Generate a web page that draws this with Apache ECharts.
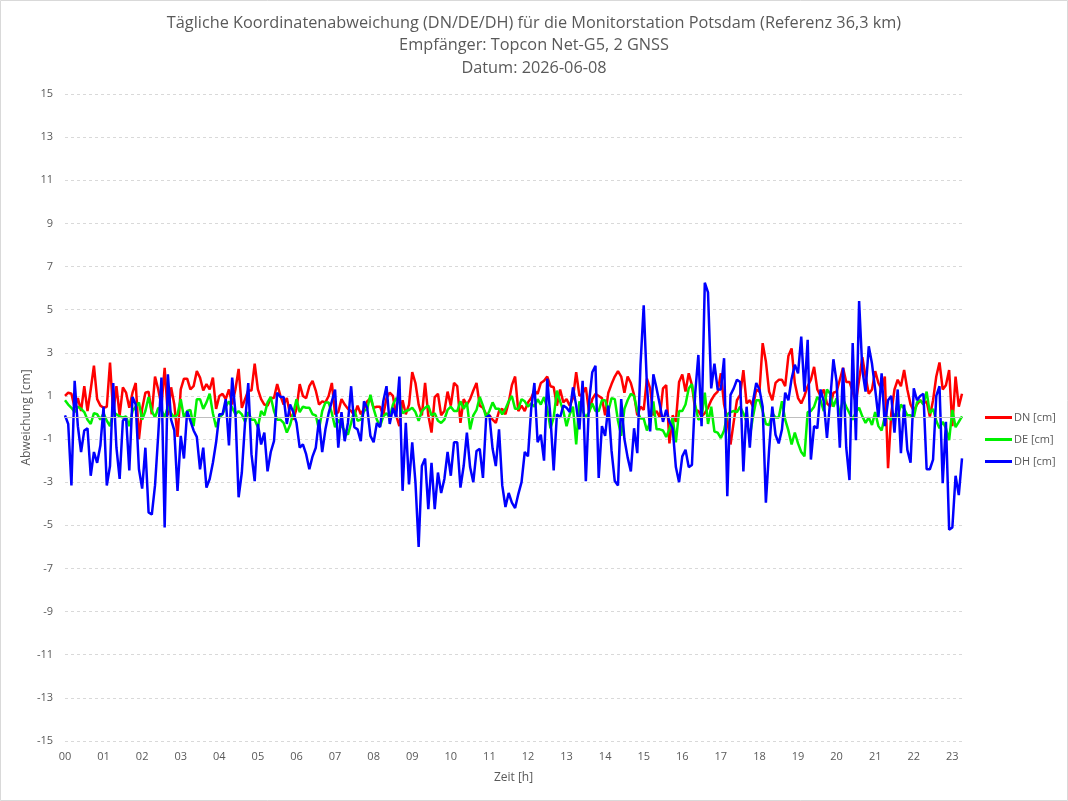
<!DOCTYPE html>
<html>
<head>
<meta charset="utf-8">
<title>Koordinatenabweichung Potsdam</title>
<script src="https://cdn.jsdelivr.net/npm/echarts@6/dist/echarts.min.js"></script>
<style>
  html, body { margin: 0; padding: 0; background: #fff; }
  #chart { width: 1068px; height: 801px; }
</style>
</head>
<body>
<div id="chart"></div>
<script>
'use strict';

// 5-minute epochs
var dn = [
    1.0, 1.15, 1.1, 0.45, 0.9, 0.3, 1.45, 0.3, 1.3, 2.4, 0.85, 0.55,
    0.45, 0.5, 2.55, 0.2, 1.45, 0.1, 1.4, 1.15, 0.45, 1.15, 1.6, -1.0,
    0.4, 1.15, 1.2, 0.15, 1.9, 1.3, 0.55, 2.3, 0.1, 1.4, 0.6, -0.9,
    1.3, 1.8, 1.8, 1.3, 1.45, 2.15, 1.85, 1.25, 1.55, 1.3, 1.85, 0.4,
    1.0, 1.1, 0.85, 1.3, 0.6, 1.3, 2.25, 0.45, 0.85, 1.25, 1.25, 2.5,
    1.3, 0.85, 0.6, 0.55, 0.9, 0.9, 1.55, 1.0, 0.6, 0.9, 0.15, -0.1,
    0.4, 1.55, 1.0, 0.9, 1.45, 1.7, 1.25, 0.6, 0.75, 0.7, 1.0, 1.6,
    0.15, 0.25, 0.85, 0.6, 0.4, 0.3, 0.1, 0.55, 0.15, 0.4, 0.75, 0.9,
    0.45, 0.5, 0.5, 0.1, 0.9, 1.15, 1.0, 0.1, -0.4, 0.8, 0.15, 0.6,
    2.1, 1.6, 0.6, 0.1, 1.6, 0.1, -0.7, 0.95, 1.1, 0.1, 0.3, 1.2,
    0.55, 1.6, 1.45, -0.25, 0.85, 0.6, 0.85, 1.25, 1.6, 0.55, 0.45, 0.15,
    0.1, -0.1, -0.25, 0.3, 0.4, 0.15, 0.7, 1.5, 1.9, 0.3, 0.55, 0.3,
    0.7, 0.9, 1.25, 1.1, 1.6, 1.7, 1.9, 1.45, 1.4, 0.55, 1.3, 0.7,
    0.85, 0.55, 0.9, 2.1, 1.0, 1.1, 1.4, 0.25, 0.85, 1.1, 1.0, 0.9,
    0.1, 1.15, 1.55, 1.9, 2.15, 1.9, 1.15, 1.9, 1.6, 1.05, 0.1, 0.5,
    0.35, 1.8, 1.35, 0.1, 0.3, 0.0, 1.35, 1.5, -1.2, 0.1, -0.2, 1.65,
    2.0, 1.2, 2.05, 1.5, 0.35, 0.3, 0.05, 0.2, 0.45, 0.8, 1.05, 1.2,
    2.05, 0.6, -0.1, -1.25, -0.2, 0.8, 1.05, 2.2, 0.65, 0.8, 0.5, 1.3,
    1.2, 3.45, 2.6, 1.2, 0.8, 1.6, 1.75, 1.75, 1.45, 2.85, 3.2, 1.6,
    0.9, 0.65, 1.0, 1.45, 1.75, 2.35, 1.3, 1.0, 1.3, 0.65, 0.5, 1.15,
    1.2, 1.75, 2.3, 1.65, 1.65, 1.2, 0.7, 1.75, 2.8, 1.9, 1.1, 1.3,
    2.15, 1.6, 1.3, 1.9, -2.35, 0.2, 1.3, 1.75, 1.45, 2.2, 1.3, 0.6,
    0.3, 0.6, 0.8, 0.65, 0.75, 0.05, 0.8, 1.9, 2.55, 1.3, 1.5, 2.2,
    -0.4, 1.9, 0.5, 1.1
];

var de = [
    0.8, 0.6, 0.45, 0.25, 0.5, 0.4, 0.25, -0.1, -0.3, 0.2, 0.15, -0.1,
    0.2, -0.15, -0.4, 0.25, 0.15, 0.05, 0.0, 0.05, -0.4, 0.3, 0.5, 0.7,
    -0.1, 0.3, 0.95, 0.3, 0.0, 0.45, 0.35, 0.0, 0.5, 0.2, 0.0, 0.15,
    0.85, 0.0, 0.3, 0.35, -0.4, 0.85, 0.85, 0.4, 0.7, 1.1, 0.2, -0.45,
    0.0, 0.15, 0.5, 0.75, 0.45, 0.15, 0.3, 0.15, -0.2, 0.25, -0.1, -0.1,
    -0.45, 0.3, 0.1, 0.7, 0.95, 0.3, -0.1, -0.1, -0.25, -0.7, -0.35, 0.2,
    0.85, 0.25, 0.5, 0.45, 0.45, 0.15, 0.1, -0.55, 0.3, 0.7, 0.7, 0.2,
    -0.45, -0.1, -0.4, -0.6, -0.8, -0.25, 0.35, -0.15, -0.1, 0.3, 0.4, 1.05,
    0.4, -0.1, -0.4, 0.05, 0.2, 0.0, 0.6, 0.9, 0.7, 0.2, 0.3, 0.35,
    0.45, 0.25, -0.15, 0.3, 0.45, 0.55, 0.1, 0.2, -0.15, -0.25, -0.1, 0.35,
    0.5, 0.3, 0.3, 0.75, 0.4, 0.7, -0.55, 0.1, 0.35, 0.95, 0.55, 0.0,
    0.3, 0.7, 0.4, 0.4, 0.15, 0.4, 0.75, 1.0, 0.4, 0.4, 0.85, 0.75,
    0.5, 0.65, 0.5, 0.85, 0.6, 0.95, 0.4, -0.5, 0.0, 1.25, 0.75, 0.3,
    -0.4, 0.15, 0.5, -1.25, 0.75, 0.3, 0.0, 0.25, 0.65, 0.3, 0.3, 0.8,
    0.8, 0.3, 0.9, 0.85, -0.15, -0.85, 0.4, 0.8, 1.1, 1.0, 0.3, -0.05,
    -0.05, -0.6, -0.2, 0.75, -0.55, -0.55, -0.6, -0.9, -0.55, 0.0, -1.15, 0.3,
    0.3, 0.6, 1.35, 1.55, 0.6, -0.1, 0.0, 1.15, -0.3, 0.5, -0.65, -0.7,
    -0.95, -0.6, 0.15, 0.25, 0.3, 0.25, 0.5, 0.2, -0.2, -0.9, 0.05, 0.8,
    0.8, 0.3, -0.3, -0.35, 0.2, 0.0, 0.0, 0.75, -0.1, -0.6, -1.25, -0.7,
    -1.2, -1.6, -1.8, 0.25, 0.3, 0.5, 0.95, 0.8, 0.3, 1.3, 1.1, 0.5,
    0.9, 0.1, 0.85, 0.5, 0.2, -0.1, 0.25, 0.45, 0.05, -0.25, 0.0, -0.35,
    0.25, -0.4, -0.6, 0.05, 0.0, -0.1, 0.15, 0.05, 0.6, 0.4, 0.1, 0.1,
    0.0, 0.7, 0.8, 0.6, 1.2, 0.2, 0.4, -0.15, -0.5, -0.2, -0.5, -1.05,
    0.35, -0.45, -0.2, 0.05
];

var dh = [
    0.1, -0.3, -3.15, 1.7, -0.4, -1.6, -0.6, -0.5, -2.7, -1.6, -2.1, -1.3,
    0.5, -3.15, -2.25, 1.6, -1.4, -2.85, -0.15, 0.0, -2.45, 0.95, 0.6, -2.4,
    -3.3, -1.4, -4.4, -4.5, -3.15, -0.8, 1.85, -5.1, 2.0, -0.1, -0.6, -3.4,
    -0.85, -1.9, 0.3, -0.15, -0.6, -0.9, -2.4, -1.4, -3.25, -2.85, -2.1, -1.15,
    0.15, 0.15, 0.85, -1.3, 1.85, 0.25, -3.7, -2.55, -0.25, 1.6, -1.7, -2.95,
    -0.3, -1.25, -0.7, -2.5, -1.6, -1.1, 1.15, 0.95, 0.95, -0.3, 0.6, 0.25,
    -0.25, -1.4, -1.25, -1.7, -2.4, -1.8, -1.4, -0.1, -1.6, -0.55, 0.2, 0.75,
    1.3, -1.4, 0.25, -1.1, -0.25, 1.45, -0.45, -0.55, -1.1, 0.75, 0.45, -0.85,
    -1.15, -0.25, -0.45, 0.75, 1.45, -0.3, 0.45, 0.0, 1.9, -3.4, -0.25, -3.1,
    -1.15, -3.0, -6.0, -2.25, -1.9, -4.25, -2.1, -4.25, -2.55, -3.5, -2.85, -1.6,
    -2.7, -1.15, -1.15, -3.25, -2.25, -0.7, -2.3, -3.0, -1.55, -1.45, -2.8, 0.0,
    0.1, -1.45, -2.25, -0.55, -3.15, -4.15, -3.5, -3.95, -4.2, -3.55, -3.0, -1.6,
    -1.8, 0.4, 1.6, -1.15, -0.8, -2.0, 1.8, 0.0, -2.45, 0.15, 0.0, 0.55,
    0.45, 0.25, 1.4, 0.55, -0.55, 1.7, -2.95, 0.7, 2.1, 2.4, -2.8, -0.4,
    -0.85, 0.55, -1.55, -2.95, -3.15, 0.85, -1.0, -1.85, -2.5, -0.5, -1.65, 2.45,
    5.2, 1.5, -0.65, 2.0, 1.35, 0.6, -0.2, 0.35, -0.2, -0.5, -2.3, -3.0,
    -1.8, -1.5, -2.3, -2.2, 1.1, 2.9, -0.4, 6.25, 5.8, 1.35, 2.5, 1.3,
    1.3, 2.75, -3.65, 1.05, 1.35, 1.75, 1.65, -2.5, 0.5, -1.4, 0.75, 1.6,
    1.3, 0.5, -3.95, -1.5, 0.5, -0.8, -1.2, -0.55, 1.15, 0.8, 1.8, 2.45,
    2.05, 3.75, 1.2, 3.6, -1.95, -0.4, -0.5, 1.3, 0.75, -0.95, 0.8, 2.7,
    1.65, -1.4, 2.3, -1.4, -2.9, 3.45, -1.05, 5.4, 2.2, 1.2, 3.3, 2.5,
    1.3, 0.0, 2.05, -0.4, 0.8, 1.0, -0.7, 1.3, -1.65, 0.6, -1.5, -2.1,
    1.35, 0.8, 1.0, 1.1, -2.4, -2.4, -1.95, 1.0, 1.45, -3.05, -0.2, -5.2,
    -5.1, -2.7, -3.6, -1.9
];

var seriesNames = ['DN [cm]', 'DE [cm]', 'DH [cm]'];
var seriesColors = ['#ff0000', '#00f000', '#0000ff'];

var titleLines = [
    'Tägliche Koordinatenabweichung (DN/DE/DH) für die Monitorstation Potsdam (Referenz 36,3 km)',
    'Empfänger: Topcon Net-G5, 2 GNSS',
    'Datum: 2026-06-08'
];

function pad2(n) {
    return (n < 10 ? '0' : '') + n;
}

// time of day for every epoch (5 min steps)
var times = [];
for (var i = 0; i < dn.length; i++) {
    times.push(pad2(Math.floor(i / 12)) + ':' + pad2((i % 12) * 5));
}

var textColor = '#595959';
var fontFamily = '"Open Sans", "Noto Sans", sans-serif';

function lineSeries(name, data, color, extra) {
    var s = {
        name: name,
        type: 'line',
        data: data,
        symbol: 'none',
        showSymbol: false,
        smooth: false,
        lineStyle: { color: color, width: 2.5 },
        itemStyle: { color: color }
    };
    if (extra) {
        for (var k in extra) s[k] = extra[k];
    }
    return s;
}

var chart = echarts.init(document.getElementById('chart'));

var option = {
    animation: false,
    backgroundColor: '#ffffff',
    textStyle: { fontFamily: fontFamily },
    graphic: [{
        type: 'rect',
        silent: true,
        shape: { x: 0.5, y: 0.5, width: 1067, height: 800 },
        style: { fill: null, stroke: '#d9d9d9', lineWidth: 1 }
    }],
    title: {
        text: titleLines.join('\n'),
        left: 'center',
        top: 7,
        textStyle: {
            fontFamily: fontFamily,
            fontSize: 16.3,
            fontWeight: 'normal',
            color: textColor,
            lineHeight: 22.5
        }
    },
    legend: {
        orient: 'vertical',
        left: 985,
        top: 412,
        padding: 0,
        icon: 'rect',
        itemWidth: 27,
        itemHeight: 3,
        itemGap: 11,
        textStyle: { fontFamily: fontFamily, fontSize: 11, color: textColor, padding: [0, 0, 0, -3] },
        data: seriesNames
    },
    grid: {
        left: 65,
        right: 106,
        top: 94,
        bottom: 60,
        containLabel: false
    },
    xAxis: {
        type: 'category',
        data: times,
        boundaryGap: false,
        name: 'Zeit [h]',
        nameLocation: 'middle',
        nameGap: 31,
        nameTextStyle: { fontFamily: fontFamily, fontSize: 12, color: textColor },
        axisLine: { show: false },
        axisTick: { show: false },
        splitLine: { show: false },
        axisLabel: {
            interval: function (idx) { return idx % 12 === 0; },
            formatter: function (val) { return val.substr(0, 2); },
            color: textColor,
            fontSize: 11,
            margin: 10
        }
    },
    yAxis: {
        type: 'value',
        min: -15,
        max: 15,
        interval: 2,
        name: 'Abweichung [cm]',
        nameLocation: 'middle',
        nameRotate: 90,
        nameGap: 32,
        nameMoveOverlap: false,
        nameTextStyle: { fontFamily: fontFamily, fontSize: 12, color: textColor },
        axisLine: { show: false },
        axisTick: { show: false },
        axisLabel: { color: textColor, fontSize: 11, margin: 12 },
        splitLine: { show: true, lineStyle: { color: '#d9d9d9', type: [3, 3], width: 1 } }
    },
    series: [
        lineSeries(seriesNames[0], dn, seriesColors[0], {
            markLine: {
                silent: true,
                symbol: 'none',
                label: { show: false },
                lineStyle: { color: '#bfbfbf', type: 'solid', width: 1 },
                data: [{ yAxis: 0 }]
            }
        }),
        lineSeries(seriesNames[1], de, seriesColors[1]),
        lineSeries(seriesNames[2], dh, seriesColors[2])
    ]
};

chart.setOption(option);
</script>
</body>
</html>
